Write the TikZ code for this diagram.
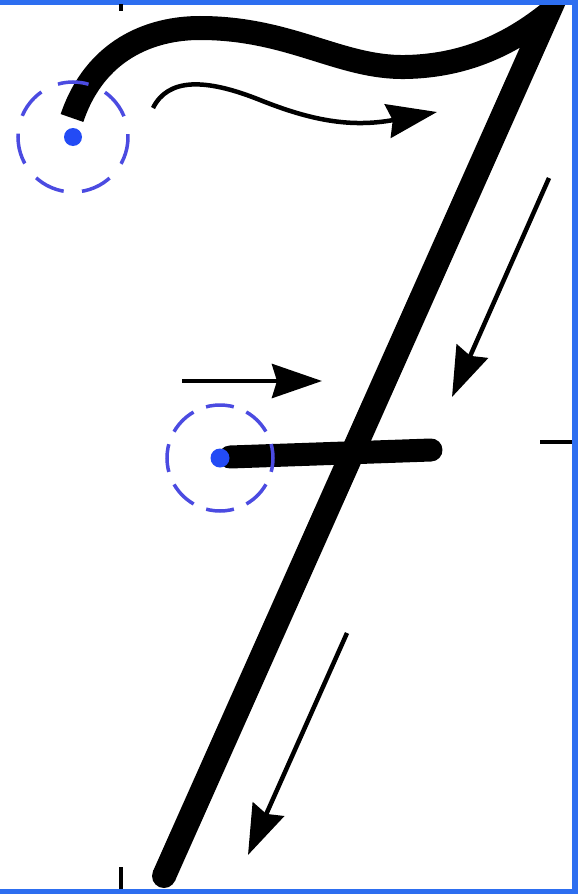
\documentclass[tikz,border=0pt]{standalone}
\usetikzlibrary{arrows.meta}
\definecolor{ringblue}{RGB}{75,75,225}
\definecolor{dotblue}{RGB}{35,75,245}
\definecolor{borderblue}{RGB}{45,110,240}
\begin{document}
\begin{tikzpicture}[x=1pt,y=-1pt,
  pen/.style={line width=24pt, line join=miter, miter limit=10, line cap=butt},
  guide/.style={line width=4.5pt, -{Stealth[length=50pt,width=34pt,inset=5pt]}},
  ring/.style={ringblue, line width=3.5pt},
  tickmark/.style={line width=3.5pt}]
\fill[white] (0,0) rectangle (586,894);
\useasboundingbox (0,0) rectangle (586,894);
% named points
\coordinate (s1) at (73,137);
\coordinate (s2) at (220,458);
\coordinate (tip) at (548,14);
\coordinate (foot) at (164,876);
\coordinate (barL) at (230,457);
\coordinate (barR) at (431,450);
% main strokes, clipped to the frame
\begin{scope}
\clip (0,4) rectangle (572,889);
\draw[pen] (72,118) .. controls (95,50) and (150,28) .. (200,28)
   .. controls (290,28) and (340,68) .. (405,67)
   .. controls (470,66) and (515,40) .. (tip) -- (foot);
\fill (foot) circle[radius=12];
\end{scope}
\draw[line width=23pt, line cap=round] (barL) -- (barR);
% start rings and dots
\draw[ring, dash pattern=on 31pt off 18.37pt, dash phase=3pt] (s1) circle[radius=55];
\draw[ring, dash pattern=on 28pt off 13.6pt, dash phase=14pt] (s2) circle[radius=53];
\fill[dotblue] (s1) circle[radius=9];
\fill[dotblue] (s2) circle[radius=9.5];
% direction arrows
\coordinate (a1s) at (153,108);
\coordinate (a1e) at (437,112);
\draw[guide] (a1s) .. controls (168,78) and (205,78) .. (260,100)
   .. controls (310,120) and (350,128) .. (a1e);
\coordinate (a2s) at (549,178);
\coordinate (a2e) at (452,397);
\draw[guide] (a2s) -- (a2e);
\coordinate (a3s) at (182,381);
\coordinate (a3e) at (322,381);
\draw[guide] (a3s) -- (a3e);
\coordinate (a4s) at (347,633);
\coordinate (a4e) at (248,855);
\draw[guide] (a4s) -- (a4e);
% frame
\fill[borderblue] (0,0) rectangle (578,4.5);
\fill[borderblue] (0,889) rectangle (578,894);
\fill[borderblue] (572,0) rectangle (578,894);
% ticks
\coordinate (t1a) at (121,4);
\coordinate (t1b) at (121,11);
\draw[tickmark] (t1a) -- (t1b);
\coordinate (t2a) at (121,867);
\coordinate (t2b) at (121,889);
\draw[tickmark] (t2a) -- (t2b);
\coordinate (t3a) at (540,442);
\coordinate (t3b) at (572,442);
\draw[tickmark] (t3a) -- (t3b);
\end{tikzpicture}
\end{document}
